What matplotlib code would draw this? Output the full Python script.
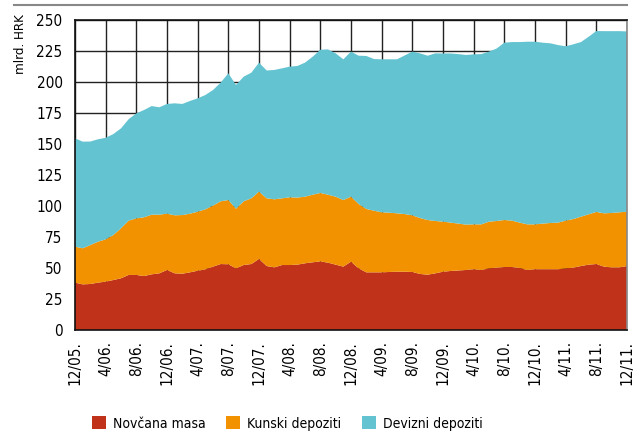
import matplotlib
matplotlib.use("Agg")
import matplotlib.pyplot as plt
from matplotlib.patches import Patch

plt.rcParams["font.family"] = ["DejaVu Sans"]
plt.rcParams["font.stretch"] = "condensed"

# mjesečni podaci 12/2005 - 12/2011, mlrd. HRK
novcana_masa = [
    38.2, 36.8, 37.1, 38.2, 39.0, 40.3, 41.7, 44.4, 44.4, 43.5, 44.9, 45.7,
    48.4, 45.7, 45.4, 46.5, 47.8, 48.9, 51.1, 53.2, 53.0, 49.7, 52.4, 53.2,
    57.3, 51.6, 50.5, 52.4, 52.4, 52.7, 53.8, 54.6, 55.3, 54.3, 52.7, 51.1,
    55.1, 49.7, 46.5, 46.5, 46.5, 46.8, 47.0, 47.0, 46.8, 45.2, 44.6, 45.7,
    47.0, 47.6, 48.0, 48.4, 49.0, 48.4, 49.7, 50.3, 50.8, 50.8, 50.0, 48.4,
    49.0, 49.0, 49.0, 49.0, 49.7, 50.3, 51.6, 52.7, 53.2, 51.1, 50.5, 50.5,
    51.6,
]
kunski_depoziti = [
    29.0, 29.1, 31.4, 33.0, 34.1, 36.3, 40.3, 43.8, 45.6, 47.4, 48.1, 47.3,
    45.4, 46.8, 47.3, 47.3, 47.6, 48.4, 49.2, 50.6, 51.8, 48.1, 51.4, 53.0,
    54.3, 54.6, 54.9, 53.8, 54.6, 54.1, 53.7, 54.5, 55.2, 54.8, 54.8, 53.7,
    52.4, 51.9, 51.1, 49.7, 48.4, 47.8, 47.1, 46.5, 45.7, 45.1, 44.1, 42.2,
    40.4, 39.0, 37.8, 36.6, 36.2, 36.8, 37.7, 37.6, 37.9, 37.4, 36.6, 36.8,
    36.2, 36.8, 37.3, 37.6, 38.5, 39.2, 39.8, 40.6, 42.0, 43.0, 43.9, 44.4,
    43.8,
]
devizni_depoziti = [
    87.4, 86.0, 83.5, 82.6, 81.9, 81.4, 80.6, 81.8, 84.7, 86.5, 87.6, 86.6,
    88.5, 90.3, 89.6, 90.9, 91.4, 92.2, 93.2, 95.7, 102.2, 99.8, 100.5, 101.3,
    104.0, 103.1, 104.3, 104.8, 105.4, 106.1, 108.1, 111.3, 115.5, 117.2, 115.6, 113.5,
    117.0, 119.6, 123.4, 122.3, 123.4, 123.7, 124.2, 127.9, 132.0, 132.8, 132.5, 135.2,
    135.6, 136.4, 136.7, 136.8, 137.1, 137.3, 137.1, 139.1, 143.0, 144.0, 145.6, 147.3,
    147.3, 145.9, 144.9, 143.2, 140.6, 140.9, 140.8, 143.2, 145.9, 146.9, 146.6, 146.1,
    145.4,
]
tick_labels = [
    "12/05.", "4/06.", "8/06.", "12/06.", "4/07.", "8/07.", "12/07.",
    "4/08.", "8/08.", "12/08.", "4/09.", "8/09.", "12/09.", "4/10.",
    "8/10.", "12/10.", "4/11.", "8/11.", "12/11.",
]
series_names = ["Novčana masa", "Kunski depoziti", "Devizni depoziti"]
colors = ["#C03219", "#F29200", "#63C3D0"]

months = list(range(len(novcana_masa)))

fig = plt.figure(figsize=(6.38, 4.32), dpi=100)
ax = fig.add_axes([75 / 638, 1 - 330 / 432, 552 / 638, 310 / 432])

ax.stackplot(months, novcana_masa, kunski_depoziti, devizni_depoziti,
             colors=colors, linewidth=0)

ax.set_xlim(0, months[-1])
ax.set_ylim(0, 250)
ax.set_yticks(range(0, 251, 25))
ax.set_xticks(range(0, len(months), 4))
ax.set_xticklabels(tick_labels, rotation=90, fontsize=11)
ax.tick_params(axis="y", labelsize=11, pad=9)
ax.tick_params(axis="x", pad=8)
ax.tick_params(length=0)

ax.set_axisbelow(True)
ax.grid(True, color="#222222", linewidth=1)

for side in ["left", "bottom", "top"]:
    ax.spines[side].set_color("#111111")
    ax.spines[side].set_linewidth(1.2)
ax.spines["right"].set_color("#888888")
ax.spines["right"].set_linewidth(1.2)

fig.text(0.032, 1 - 44 / 432, "mlrd. HRK", rotation=90, ha="center",
         va="center", fontsize=9.5)

# linija na vrhu
fig.add_artist(plt.Line2D([14 / 638, 627 / 638], [1 - 5 / 432, 1 - 5 / 432],
                          color="#888888", linewidth=1.5))

handles = [Patch(facecolor=c, edgecolor="none") for c in colors]
fig.legend(handles, series_names, loc="center", ncol=3,
           bbox_to_anchor=(0.45, 0.02), frameon=False, fontsize=10,
           handlelength=1.0, handleheight=1.1, handletextpad=0.5,
           columnspacing=1.5)

fig.savefig("out.png", dpi=100)
